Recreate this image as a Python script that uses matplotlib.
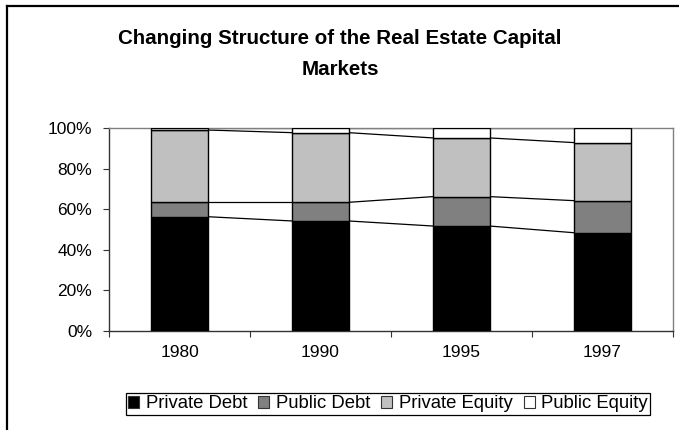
import numpy as np
import matplotlib
matplotlib.use('Agg')
import matplotlib.pyplot as plt
from matplotlib.lines import Line2D
from matplotlib.patches import Patch

plt.rcParams['font.family'] = ['Liberation Sans', 'DejaVu Sans']

anos = ['1980', '1990', '1995', '1997']
divida_privada = [56.3, 54.2, 51.7, 48.4]
divida_publica = [7.1, 9.2, 14.5, 15.8]
capital_privado = [35.6, 34.3, 28.9, 28.6]
capital_publico = [1.0, 2.3, 4.9, 7.2]

series = [
    ('Private Debt', divida_privada, '#000000'),
    ('Public Debt', divida_publica, '#808080'),
    ('Private Equity', capital_privado, '#c0c0c0'),
    ('Public Equity', capital_publico, '#ffffff'),
]

fig = plt.figure(figsize=(6.79, 4.30), dpi=100)
fig.patch.set_facecolor('white')

ax = fig.add_axes([109 / 679, 1 - 331 / 430, (673 - 109) / 679, (331 - 128) / 430])

x = np.arange(len(anos))
largura = 0.40
base = np.zeros(len(anos))
topos = []
for nome, valores, cor in series:
    valores = np.array(valores)
    ax.bar(x, valores, width=largura, bottom=base, color=cor,
           edgecolor='black', linewidth=1.0, label=nome, zorder=3)
    base = base + valores
    topos.append(base.copy())

# linhas de série ligando os topos das barras
for topo in topos:
    for i in range(len(anos) - 1):
        ax.plot([x[i] + largura / 2, x[i + 1] - largura / 2], [topo[i], topo[i + 1]],
                color='black', linewidth=0.9, zorder=2)

ax.set_xlim(-0.5, len(anos) - 0.5)
ax.set_ylim(0, 100)
ax.set_yticks(np.arange(0, 101, 20))
ax.set_yticklabels([f'{v}%' for v in range(0, 101, 20)], fontsize=12.5)
ax.set_xticks(np.arange(-0.5, len(anos), 1.0))
ax.set_xticklabels([])
ax.set_xticks(x, minor=True)
ax.set_xticklabels(anos, minor=True, fontsize=12.5)
ax.tick_params(axis='x', which='minor', length=0, pad=10)
ax.tick_params(axis='x', which='major', length=4, direction='out', color='#333333')
ax.tick_params(axis='y', length=4, direction='out', color='#333333', pad=8)

for lado in ['top', 'right']:
    ax.spines[lado].set_color('#808080')
    ax.spines[lado].set_linewidth(1.0)
for lado in ['left', 'bottom']:
    ax.spines[lado].set_color('#333333')
    ax.spines[lado].set_linewidth(1.0)

fig.text(340 / 679, 1 - 54 / 430, 'Changing Structure of the Real Estate Capital\nMarkets',
         ha='center', va='center', fontsize=14.8, fontweight='bold', linespacing=1.75)

handles = [Patch(facecolor=cor, edgecolor='#333333', linewidth=0.8, label=nome)
           for nome, _, cor in series]
leg = fig.legend(handles=handles, loc='center', bbox_to_anchor=((120 + 656) / 2 / 679, 1 - 404 / 430),
                 ncol=4, fontsize=13.3, frameon=True, fancybox=False, framealpha=1,
                 edgecolor='black', handlelength=0.6, handleheight=0.6,
                 handletextpad=0.35, columnspacing=0.6, borderpad=0.12, borderaxespad=0)
leg.get_frame().set_linewidth(0.9)

# borda da área do gráfico
fig.add_artist(Line2D([7 / 679, 7 / 679], [0, 1 - 6 / 430], transform=fig.transFigure,
                      color='black', linewidth=1.6))
fig.add_artist(Line2D([7 / 679, 1], [1 - 6 / 430, 1 - 6 / 430], transform=fig.transFigure,
                      color='black', linewidth=1.6))

plt.savefig('out.png', dpi=100, facecolor=fig.get_facecolor())
